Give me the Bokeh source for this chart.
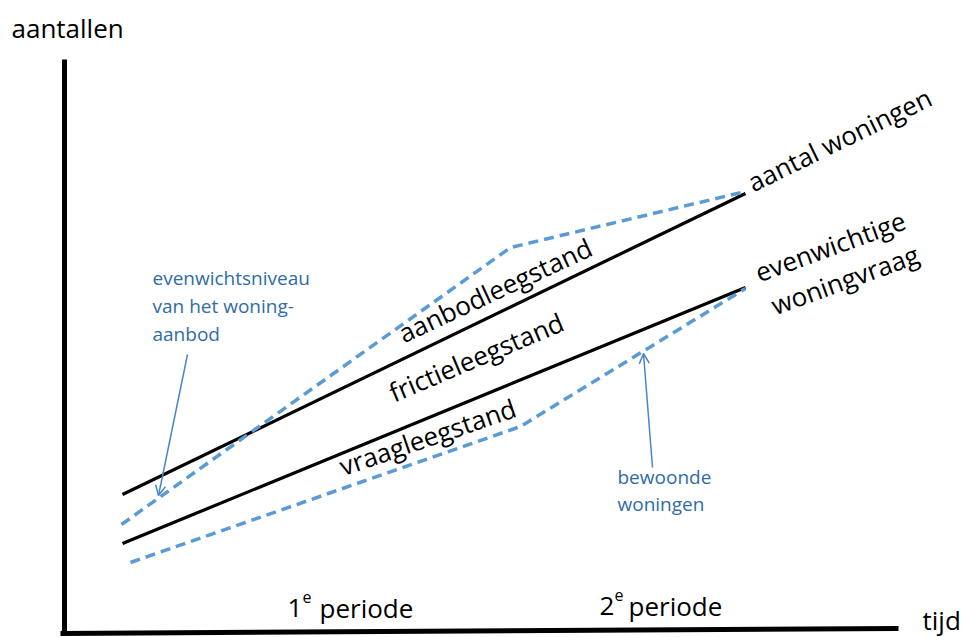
import math
from bokeh.plotting import figure
from bokeh.models import Range1d, Arrow, OpenHead
from bokeh.core.properties import value
from bokeh.embed import file_html
from bokeh.resources import INLINE

# --- data (schematic, in chart units: origin at the axes corner) ---
tijd_lijn = [58, 681]
aantal_woningen = [137, 438]
evenwichtige_vraag = [88, 344]

tijd_aanbod = [57, 446, 681]
evenwichtsniveau_aanbod = [107, 384, 440]

tijd_bewoond = [66, 456, 681]
bewoonde_woningen = [69, 205, 343]

# arrow annotations (start -> end)
pijl_aanbod = dict(xs=123, ys=277, xe=94, ye=136)
pijl_bewoond = dict(xs=588, ys=164, xe=579, ye=278)

BLUE_LINE = "#5B9BD5"
BLUE_TEXT = "#2F6CA8"
FONT = value("Open Sans")

p = figure(width=962, height=637, output_backend="svg", toolbar_location=None,
           x_range=Range1d(-64, 898), y_range=Range1d(-6, 631),
           x_axis_type=None, y_axis_type=None, min_border=0,
           outline_line_color=None, background_fill_color="white",
           border_fill_color="white")
p.grid.visible = False

# axes drawn as thick lines
p.line([0, 0], [-3, 572], line_color="black", line_width=5)
p.line([-4, 834], [-2, 3], line_color="black", line_width=5)

# solid lines
p.line(tijd_lijn, aantal_woningen, line_color="black", line_width=3.2)
p.line(tijd_lijn, evenwichtige_vraag, line_color="black", line_width=3.2)

# dashed lines
p.line(tijd_aanbod, evenwichtsniveau_aanbod, line_color=BLUE_LINE, line_width=3.5,
       line_dash="10 6", line_join="round")
p.line(tijd_bewoond, bewoonde_woningen, line_color=BLUE_LINE, line_width=3.5,
       line_dash="10 6", line_join="round")

# arrows
for a in (pijl_aanbod, pijl_bewoond):
    p.add_layout(Arrow(end=OpenHead(size=10, line_color="#4A86C8", line_width=1.5),
                       x_start=a["xs"], y_start=a["ys"], x_end=a["xe"], y_end=a["ye"],
                       line_color="#4A86C8", line_width=1.5))

def txt(x, y, s, size=26, color="black", angle=0, align="left", baseline="alphabetic"):
    # small upward correction (perpendicular to the text direction)
    d = 10 if baseline == "alphabetic" else 6
    t = math.radians(angle)
    x = x - d * math.sin(t)
    y = y + d * math.cos(t)
    p.text(x=[x], y=[y], text=[s], text_font=FONT, text_font_size=f"{size}px",
           text_color=color, angle=angle, angle_units="deg",
           text_align=align, text_baseline=baseline)

# black labels
txt(-53, 594, "aantallen")
txt(689, 439, "aantal woningen", angle=26)
txt(695, 349, "evenwichtige", angle=20)
txt(711, 316, "woningvraag", angle=20)
txt(433, 336, "aanbodleegstand", angle=25, align="center", baseline="middle")
txt(414, 269, "frictieleegstand", angle=23, align="center", baseline="middle")
txt(365, 189, "vraagleegstand", angle=19, align="center", baseline="middle")

# periods
txt(223, 14, "1")
txt(238, 25, "e", size=16)
txt(255, 14, "periode")
txt(535, 16, "2")
txt(550, 27, "e", size=16)
txt(564, 16, "periode")
txt(858, 2, "tijd")

# blue annotations
txt(88, 344, "evenwichtsniveau", size=19, color=BLUE_TEXT)
txt(88, 316, "van het woning-", size=19, color=BLUE_TEXT)
txt(88, 288, "aanbod", size=19, color=BLUE_TEXT)
txt(553, 145, "bewoonde", size=19, color=BLUE_TEXT)
txt(553, 118, "woningen", size=19, color=BLUE_TEXT)

open("out.html", "w").write(file_html(p, INLINE))
